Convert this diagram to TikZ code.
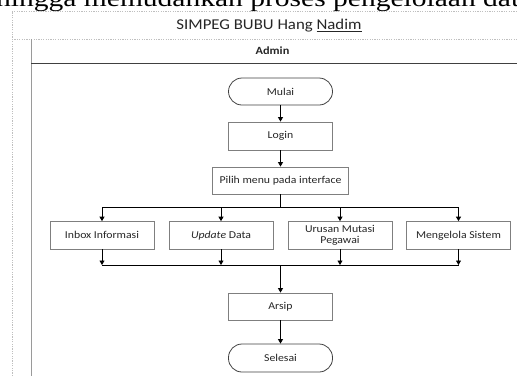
\documentclass[tikz,border=0pt]{standalone}
\usepackage{fontspec}
\setmainfont{Carlito}[FakeStretch=1.12]
\newfontfamily\topserif{Liberation Serif}[FakeStretch=1.23]
\usetikzlibrary{arrows.meta}
\definecolor{boxgray}{HTML}{7F7F7F}
\definecolor{dotgray}{HTML}{BFBFBF}
\definecolor{lanegray}{HTML}{9A9A9A}
\definecolor{txt}{HTML}{262626}
\tikzset{
  procbox/.style={draw=boxgray, line width=0.8pt, fill=white, minimum width=104pt, minimum height=27.5pt, inner sep=1pt, align=center, text=txt, font=\fontsize{10.5}{10.5}\selectfont},
  termbox/.style={procbox, draw=black!75, rounded corners=13.5pt},
  conn/.style={line width=0.8pt, draw=black},
  arr/.style={conn, -{Triangle[length=4.5pt,width=5pt]}},
  dotline/.style={draw=dotgray, line width=0.7pt, dash pattern=on 1.2pt off 1.2pt},
}
\begin{document}
\begin{tikzpicture}[x=1pt,y=-1pt]
\useasboundingbox (0,0) rectangle (517,376);
% cut-off text of the surrounding page
\node[anchor=base west, inner sep=0pt, font=\topserif\fontsize{24}{24}\selectfont] (toptext) at (-4,6) {hingga memudahkan proses pengelolaan data};
% pool frame
\coordinate (fa) at (12,11);
\coordinate (fb) at (517,11);
\coordinate (fc) at (12,39);
\coordinate (fd) at (517,39);
\coordinate (fe) at (12,376);
\draw[dotline] (fe) -- (fa) -- (fb);
\draw[dotline] (fc) -- (fd);
\node[text=txt, font=\fontsize{15}{15}\selectfont] (pool) at (269,25.5) {SIMPEG BUBU Hang \underline{Nadim}};
% lane
\coordinate (la) at (31,39);
\coordinate (lb) at (31,376);
\coordinate (lc) at (31,63);
\coordinate (ld) at (517,63);
\draw[draw=lanegray, line width=1pt] (la) -- (lb);
\draw[draw=black!75, line width=1pt] (lc) -- (ld);
\node[text=txt, font=\bfseries\fontsize{11}{11}\selectfont] (lane) at (272.5,51) {Admin};
% nodes
\node[termbox, minimum height=27pt] (mulai) at (280.5,91.5) {Mulai};
\node[procbox, minimum height=28pt] (login) at (280.5,136) {Login};
\node[procbox, minimum width=136pt, minimum height=27pt] (pilih) at (280.5,180.5) {Pilih menu pada interface};
\node[procbox] (inbox) at (102,235.3) {Inbox Informasi};
\node[procbox] (update) at (221,235.3) {\textit{Update} Data};
\node[procbox] (urusan) at (340,235.3) {Urusan Mutasi\\Pegawai};
\node[procbox] (meng) at (458.5,235.3) {Mengelola Sistem};
\node[procbox, minimum height=27pt] (arsip) at (280.5,306.5) {Arsip};
\node[termbox, minimum height=28pt] (selesai) at (280.5,358) {Selesai};
% connectors
\coordinate (br) at (280.5,207.7);
\coordinate (mg) at (280.5,265);
\draw[arr] (mulai) -- (login);
\draw[arr] (login) -- (pilih);
\draw[conn] (pilih) -- (br);
\draw[conn] (inbox |- br) -- (meng |- br);
\draw[arr] (inbox |- br) -- (inbox);
\draw[arr] (update |- br) -- (update);
\draw[arr] (urusan |- br) -- (urusan);
\draw[arr] (meng |- br) -- (meng);
\draw[arr] (inbox) -- (inbox |- mg);
\draw[arr] (update) -- (update |- mg);
\draw[arr] (urusan) -- (urusan |- mg);
\draw[arr] (meng) -- (meng |- mg);
\draw[conn] (inbox |- mg) -- (meng |- mg);
\draw[arr] (mg) -- (arsip);
\draw[arr] (arsip) -- (selesai);
\end{tikzpicture}
\end{document}
